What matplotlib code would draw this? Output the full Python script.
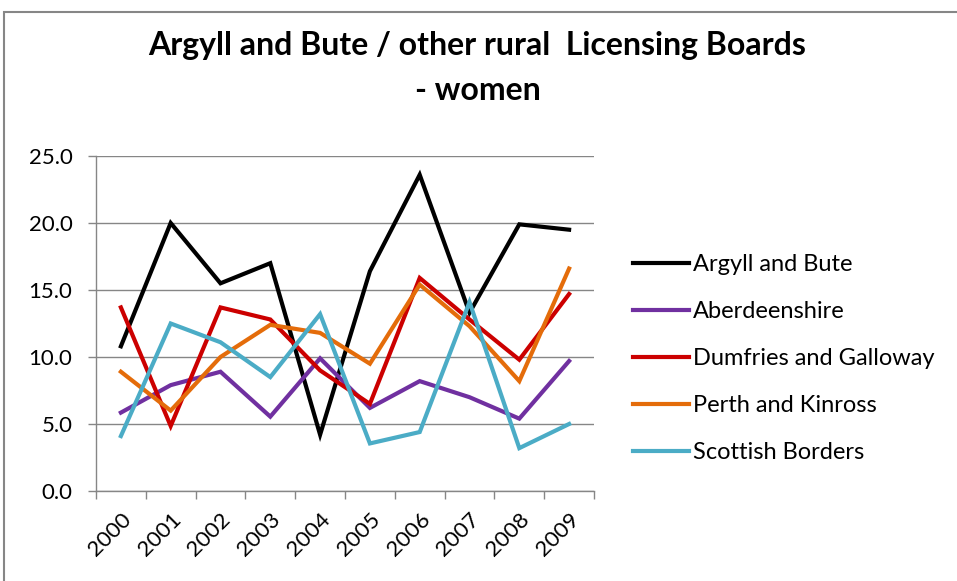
import matplotlib
matplotlib.use("Agg")
import matplotlib.pyplot as plt
from matplotlib.patches import Rectangle

years = ["2000", "2001", "2002", "2003", "2004", "2005", "2006", "2007", "2008", "2009"]
argyll = [10.8, 20.0, 15.5, 17.0, 4.2, 16.4, 23.6, 13.3, 19.9, 19.5]
aberdeenshire = [5.85, 7.9, 8.9, 5.55, 9.9, 6.2, 8.2, 7.0, 5.4, 9.7]
dumfries = [13.7, 4.85, 13.7, 12.8, 9.0, 6.5, 15.9, 12.8, 9.8, 14.7]
perth = [8.9, 6.0, 10.0, 12.4, 11.8, 9.5, 15.4, 12.3, 8.2, 16.6]
borders = [4.1, 12.5, 11.1, 8.5, 13.2, 3.55, 4.4, 14.1, 3.2, 5.0]

series = [
    ("Argyll and Bute", argyll, "#000000"),
    ("Aberdeenshire", aberdeenshire, "#7030A0"),
    ("Dumfries and Galloway", dumfries, "#CC0000"),
    ("Perth and Kinross", perth, "#E46C0A"),
    ("Scottish Borders", borders, "#4BACC6"),
]

plt.rcParams['font.family'] = ['Lato', 'DejaVu Sans']

fig = plt.figure(figsize=(9.57, 5.81), dpi=100)
ax = fig.add_axes([0.1003, 0.1549, 0.5204, 0.5766])

x = list(range(len(years)))
for name, vals, col in series:
    ax.plot(x, vals, color=col, lw=3, label=name, solid_joinstyle='miter')

ax.set_xlim(-0.5, len(years) - 0.5)
ax.set_ylim(0, 25)
ax.set_yticks([0, 5, 10, 15, 20, 25])
ax.set_yticklabels([f"{v:.1f}" for v in [0, 5, 10, 15, 20, 25]], fontsize=16)
ax.yaxis.grid(True, color="#868686", lw=1)
ax.set_axisbelow(True)
ax.set_xticks(x)
ax.set_xticklabels(years, rotation=45, fontsize=16, ha='right', rotation_mode='anchor')
ax.set_xticks([i - 0.5 for i in range(len(years) + 1)], minor=True)
ax.tick_params(axis='x', which='major', length=0, pad=13)
ax.tick_params(axis='x', which='minor', length=6, color="#868686", width=1)
ax.tick_params(axis='y', length=6, color="#868686", width=1, pad=11)
for s in ['top', 'right']:
    ax.spines[s].set_visible(False)
for s in ['left', 'bottom']:
    ax.spines[s].set_color("#868686")
    ax.spines[s].set_linewidth(1)

fig.text(0.499, 0.921, "Argyll and Bute / other rural  Licensing Boards", ha='center', va='center',
         fontsize=23, fontweight='bold')
fig.text(0.499, 0.845, "- women", ha='center', va='center', fontsize=23, fontweight='bold')

leg = ax.legend(loc='center left', bbox_to_anchor=(1.078, 0.395), frameon=False, fontsize=17,
                handlelength=2.37, handletextpad=0.17, labelspacing=1.1,
                borderpad=0, borderaxespad=0)

fig.add_artist(Rectangle((0.004, -0.01), 1.2, 0.99, transform=fig.transFigure, fill=False,
                         edgecolor="#868686", lw=1.5))

fig.savefig("out.png", dpi=100)
